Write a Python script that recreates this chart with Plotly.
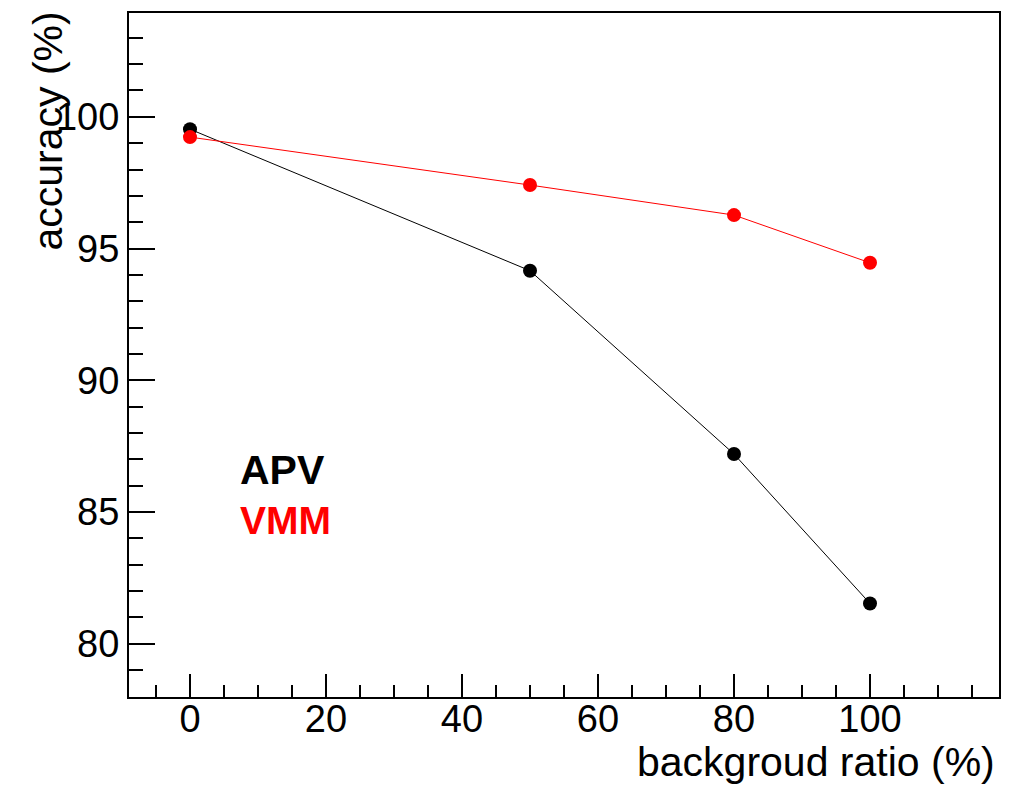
import plotly.graph_objects as go

bg_ratio = [0, 50, 80, 100]
apv_acc = [99.53, 94.16, 87.2, 81.53]
vmm_acc = [99.23, 97.41, 96.27, 94.46]

FONT = "Liberation Sans, Arial, Helvetica, sans-serif"

fig = go.Figure()
fig.add_trace(go.Scatter(x=bg_ratio, y=apv_acc, mode="lines+markers", name="APV",
                         line=dict(color="black", width=1),
                         marker=dict(color="black", size=14, symbol="circle")))
fig.add_trace(go.Scatter(x=bg_ratio, y=vmm_acc, mode="lines+markers", name="VMM",
                         line=dict(color="#ff0000", width=1),
                         marker=dict(color="#ff0000", size=14, symbol="circle")))

# page body has an 8px default margin, so the figure is offset by 8px
fig.update_layout(
    width=1002, height=778,
    margin=dict(l=121, r=11, t=5, b=89),
    paper_bgcolor="white", plot_bgcolor="white",
    showlegend=False,
    font=dict(family=FONT, color="black"),
)
fig.update_xaxes(
    range=[-8.97, 118.97], showgrid=False, zeroline=False, automargin=False,
    showline=True, linecolor="black", linewidth=2, mirror=True,
    ticks="inside", ticklen=23, tickwidth=1.5, tickcolor="black",
    tick0=0, dtick=20, tickfont=dict(size=38, family=FONT),
    ticklabelstandoff=-13,
    minor=dict(ticks="inside", ticklen=12, tickwidth=1.5, tickcolor="black", dtick=5, tick0=0, showgrid=False),
)
fig.update_yaxes(
    range=[77.98, 103.94], showgrid=False, zeroline=False, automargin=False,
    showline=True, linecolor="black", linewidth=2, mirror=True,
    ticks="inside", ticklen=26, tickwidth=1.5, tickcolor="black",
    tick0=0, dtick=5, tickfont=dict(size=38, family=FONT),
    minor=dict(ticks="inside", ticklen=14, tickwidth=1.5, tickcolor="black", dtick=1, tick0=0, showgrid=False),
)

fig.add_annotation(text="backgroud ratio (%)", xref="paper", yref="paper",
                   x=(997 - 129) / 870, y=(697 - 762) / 684, xanchor="right", yanchor="middle",
                   showarrow=False, font=dict(size=41, family=FONT, color="black"))
fig.add_annotation(text="accuracy (%)", xref="paper", yref="paper", textangle=-90,
                   x=(47 - 129) / 870, y=(697 - 10) / 684, xanchor="center", yanchor="top",
                   showarrow=False, font=dict(size=41, family=FONT, color="black"))
fig.add_annotation(text="<b>APV</b>", xref="x", yref="y", x=7.06, y=86.59,
                   xanchor="left", yanchor="middle", showarrow=False,
                   font=dict(size=41, family=FONT, color="black"))
fig.add_annotation(text="<b>VMM</b>", xref="x", yref="y", x=7.06, y=84.66,
                   xanchor="left", yanchor="middle", showarrow=False,
                   font=dict(size=39, family=FONT, color="#ff0000"))

fig.write_html("out.html")
